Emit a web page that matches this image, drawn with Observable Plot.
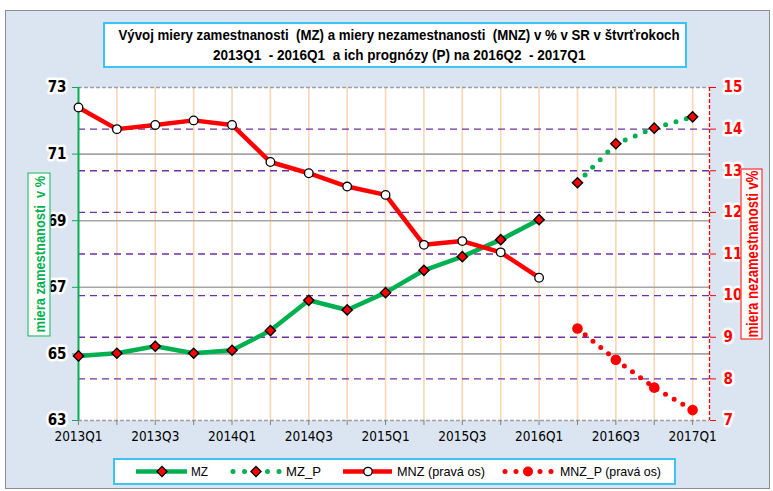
<!DOCTYPE html>
<html><head><meta charset="utf-8">
<script src="https://cdn.jsdelivr.net/npm/d3@7"></script>
<script src="https://cdn.jsdelivr.net/npm/@observablehq/plot@0.6"></script>
<style>
body{margin:0;background:#fff;}
#wrap{position:relative;width:773px;height:491px;overflow:hidden;font-family:"Liberation Sans Narrow","Arial Narrow","DejaVu Sans Condensed",sans-serif;}
#bg{position:absolute;left:5px;top:10px;width:765px;height:479px;background:#dbe5f1;border:1.5px solid #8c8c8c;box-sizing:border-box}
#plot{position:absolute;left:0;top:0}
#title{position:absolute;left:103px;top:22px;width:584px;height:46px;background:#fff;border:2px solid #3cc3f5;box-sizing:border-box;font-family:"Liberation Sans",Arial,sans-serif;font-weight:bold;font-size:15.5px;line-height:20px;padding-top:1px;padding-left:8px;color:#000}
#title div{display:flex;justify-content:center;white-space:nowrap;height:20px}
.fit{display:inline-block;flex:none;white-space:pre;transform-origin:center center}
.ylab{position:absolute;background:#fff;box-sizing:border-box;display:flex;justify-content:center;align-items:center;font-family:"Liberation Sans",Arial,sans-serif;font-weight:bold;white-space:nowrap;transform:rotate(-90deg)}
#ylL{left:-43.5px;top:242.5px;width:164px;height:23px;border:1.5px solid #00b050;color:#00b050;font-size:15.5px;line-height:20px}
#ylR{left:665.5px;top:242.5px;width:171px;height:22px;border:1.5px solid #ff0000;color:#ff0000;font-size:16.5px;line-height:19px}
#legend{position:absolute;left:113px;top:458px;width:563px;height:27px;background:#fff;border:2px solid #3cc3f5;box-sizing:border-box}
</style></head>
<body>
<div id="wrap">
  <div id="bg"></div>
  <div id="plot"></div>
  <div id="title"><div><span class="fit" data-w="561">Vývoj miery zamestnanosti  (MZ) a miery nezamestnanosti  (MNZ) v % v SR v štvrťrokoch</span></div><div><span class="fit" data-w="372">2013Q1  - 2016Q1  a ich prognózy (P) na 2016Q2  - 2017Q1</span></div></div>
  <div id="ylL" class="ylab"><span class="fit" data-w="157">miera zamestnanosti  v %</span></div>
  <div id="ylR" class="ylab"><span class="fit" data-w="167">miera nezamestnanosti v%</span></div>
  <div id="legend"></div>
</div>
<script>
// ---- data ----
const quarters = ["2013Q1","2013Q2","2013Q3","2013Q4","2014Q1","2014Q2","2014Q3","2014Q4",
  "2015Q1","2015Q2","2015Q3","2015Q4","2016Q1","2016Q2","2016Q3","2016Q4","2017Q1"];
// MZ: employment rate (left axis), 2013Q1..2016Q1
const mz = [64.94, 65.02, 65.23, 65.02, 65.11, 65.70, 66.61, 66.32, 66.84, 67.51, 67.92, 68.43, 69.03];
// MZ_P: forecast 2016Q2..2017Q1
const mzP = [70.14, 71.31, 71.78, 72.12];
// MNZ: unemployment rate (right axis), 2013Q1..2016Q1
const mnz = [14.52, 14.00, 14.10, 14.21, 14.10, 13.21, 12.94, 12.62, 12.42, 11.22, 11.31, 11.04, 10.43];
// MNZ_P: forecast 2016Q2..2017Q1
const mnzP = [9.21, 8.46, 7.79, 7.25];
const leftTicks = [63, 65, 67, 69, 71, 73];
const rightTicks = [7, 8, 9, 10, 11, 12, 13, 14, 15];
const legendLabels = ["MZ", "MZ_P", "MNZ (pravá os)", "MNZ_P (pravá os)"];

// ---- fit HTML texts to the reference widths (Arial Narrow look) ----
document.querySelectorAll(".fit").forEach(el => {
  const w = el.offsetWidth, t = +el.dataset.w;
  if (w > 0) el.style.transform = `scaleX(${t / w})`;
});

// ---- scales mapping: right axis (7..15) onto left axis (63..73) ----
const L0 = 63, L1 = 73, R0 = 7, R1 = 15;
const toL = r => L0 + (r - R0) * (L1 - L0) / (R1 - R0);
const toR = l => R0 + (l - L0) * (R1 - R0) / (L1 - L0);
const nQ = quarters.length;
const firstP = mz.length; // index of 2016Q2
const xMax = nQ - 1 + 0.44;

const mzData = mz.map((v, i) => ({i, v}));
const mzPData = mzP.map((v, k) => ({i: firstP + k, v}));
const mnzData = mnz.map((v, i) => ({i, v: toL(v)}));
const mnzPData = mnzP.map((v, k) => ({i: firstP + k, v: toL(v)}));

const FONT = '"Liberation Sans Narrow","Arial Narrow","DejaVu Sans Condensed",sans-serif';
const GREEN = "#00b050", RED = "#ff0000";

const chart = Plot.plot({
  width: 773, height: 491,
  marginLeft: 78, marginRight: 64, marginTop: 87, marginBottom: 71,
  x: {type: "linear", domain: [0, xMax]},
  y: {domain: [L0, L1]},
  style: {background: "transparent", fontFamily: FONT, overflow: "visible"},
  marks: [
    Plot.frame({fill: "white", stroke: null}),
    Plot.ruleX(d3.range(1, nQ), {stroke: "#fcd5b4", strokeWidth: 1.6}),
    Plot.ruleY(leftTicks.slice(1, -1), {stroke: "#a6a6a6", strokeWidth: 1.6}),
    Plot.ruleY(rightTicks.slice(1, -1).map(toL), {stroke: "#7030a0", strokeWidth: 1.4, strokeDasharray: "7,5"}),
    Plot.ruleY([L0, L1], {stroke: "#a0a0a0", strokeWidth: 1.6, strokeDasharray: "4,2"}),
    Plot.ruleX([0], {stroke: GREEN, strokeWidth: 2}),
    Plot.ruleX([xMax], {stroke: RED, strokeWidth: 1.3, strokeDasharray: "4,2"}),
    // axes
    Plot.axisY({ticks: leftTicks, tickSize: 6, tickPadding: 6, stroke: GREEN, fill: "black",
      fontWeight: "bold", fontSize: 15, textStroke: "white", textStrokeWidth: 5, label: null}),
    Plot.axisY(rightTicks.map(toL), {anchor: "right", tickFormat: d => String(Math.round(toR(d))),
      tickSize: 6, tickPadding: 8, stroke: RED, fill: RED, fontWeight: "bold", fontSize: 15,
      textStroke: "white", textStrokeWidth: 5, label: null}),
    Plot.axisX({ticks: d3.range(0, nQ), tickFormat: i => (i % 2 === 0 ? quarters[i] : ""),
      tickSize: 5, tickPadding: 6, stroke: "#808080", fill: "black", fontSize: 13.5, label: null}),
    // MZ
    Plot.line(mzData, {x: "i", y: "v", stroke: GREEN, strokeWidth: 4.5}),
    Plot.line(mzPData, {x: "i", y: "v", stroke: GREEN, strokeWidth: 5, strokeDasharray: "0,10.8", strokeLinecap: "round"}),
    Plot.dot(mzData, {x: "i", y: "v", symbol: "diamond2", r: 4.6, fill: RED, stroke: "black", strokeWidth: 1.4}),
    Plot.dot(mzPData, {x: "i", y: "v", symbol: "diamond2", r: 4.6, fill: RED, stroke: "black", strokeWidth: 1.4}),
    // MNZ
    Plot.line(mnzData, {x: "i", y: "v", stroke: RED, strokeWidth: 4.5}),
    Plot.line(mnzPData, {x: "i", y: "v", stroke: RED, strokeWidth: 5, strokeDasharray: "0,10", strokeLinecap: "round"}),
    Plot.dot(mnzData, {x: "i", y: "v", r: 4.3, fill: "white", stroke: "black", strokeWidth: 1.3}),
    Plot.dot(mnzPData, {x: "i", y: "v", r: 5.3, fill: RED})
  ]
});
document.getElementById("plot").appendChild(chart);

// ---- legend ----
const lg = d3.select("#legend").append("svg").attr("width", 559).attr("height", 23)
  .style("position", "absolute").style("left", "0px").style("top", "0px").style("overflow", "visible");
const ox = 115, oy = 460, cy = 471.5 - oy;
function X(x) { return x - ox; }
// MZ
lg.append("line").attr("x1", X(136)).attr("x2", X(187)).attr("y1", cy).attr("y2", cy).attr("stroke", GREEN).attr("stroke-width", 4.5);
lg.append("path").attr("d", d3.symbol(d3.symbolDiamond2, 66)()).attr("transform", `translate(${X(162)},${cy})`).attr("fill", RED).attr("stroke", "black").attr("stroke-width", 1.3);
// MZ_P
[233, 244.5, 267.5, 279].forEach(x => lg.append("circle").attr("cx", X(x)).attr("cy", cy).attr("r", 2.5).attr("fill", GREEN));
lg.append("path").attr("d", d3.symbol(d3.symbolDiamond2, 66)()).attr("transform", `translate(${X(256)},${cy})`).attr("fill", RED).attr("stroke", "black").attr("stroke-width", 1.3);
// MNZ
lg.append("line").attr("x1", X(343)).attr("x2", X(392)).attr("y1", cy).attr("y2", cy).attr("stroke", RED).attr("stroke-width", 4.5);
lg.append("circle").attr("cx", X(368)).attr("cy", cy).attr("r", 4.2).attr("fill", "white").attr("stroke", "black").attr("stroke-width", 1.3);
// MNZ_P
[505, 516, 540, 551].forEach(x => lg.append("circle").attr("cx", X(x)).attr("cy", cy).attr("r", 2.5).attr("fill", RED));
lg.append("circle").attr("cx", X(528)).attr("cy", cy).attr("r", 5).attr("fill", RED);
// texts (widths as in the reference)
[[191, 0, 17], [286, 1, 35], [397, 2, 88], [560, 3, 101]].forEach(([x, k, w]) =>
  lg.append("text").attr("x", X(x)).attr("y", cy).attr("dy", "0.36em").attr("font-size", 13.5)
    .attr("font-family", '"Liberation Sans",Arial,sans-serif').attr("fill", "black")
    .attr("textLength", w).attr("lengthAdjust", "spacingAndGlyphs").text(legendLabels[k]));
</script>
</body></html>
